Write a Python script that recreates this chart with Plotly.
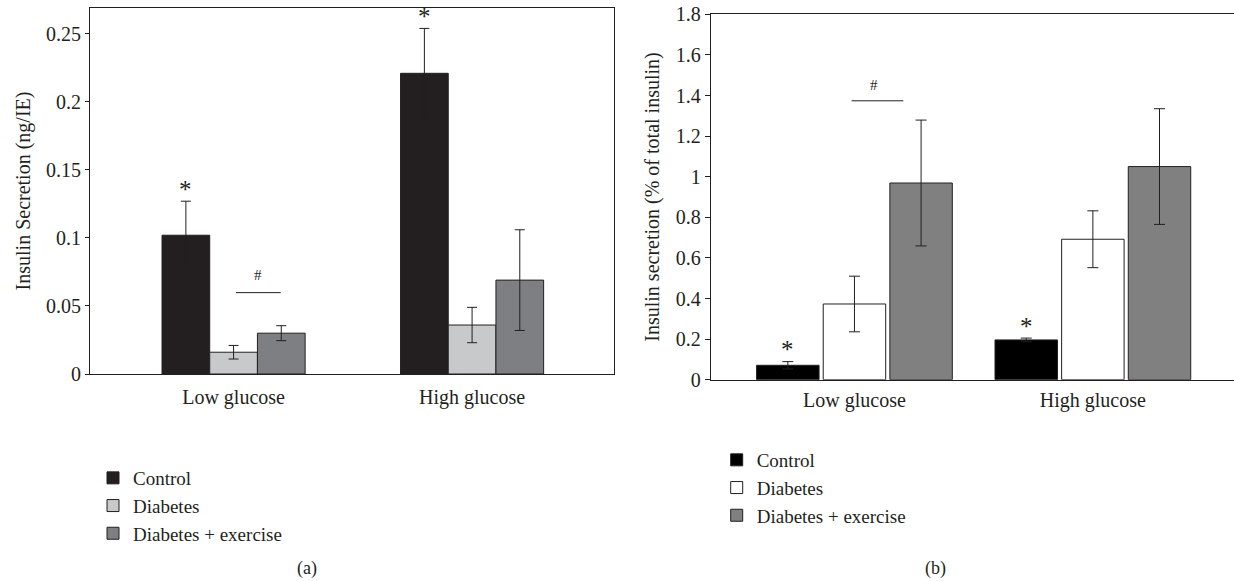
import plotly.graph_objects as go

# ---------------- data ----------------
categories = ["Low glucose", "High glucose"]
series_names = ["Control", "Diabetes", "Diabetes + exercise"]

# panel (a): insulin secretion (ng/IE)
a_control = [0.102, 0.221]
a_control_err = [0.025, 0.033]
a_diabetes = [0.016, 0.036]
a_diabetes_err = [0.005, 0.013]
a_exercise = [0.030, 0.069]
a_exercise_err = [0.0055, 0.037]

# panel (b): insulin secretion (% of total insulin)
b_control = [0.071, 0.196]
b_control_err = [0.018, 0.009]
b_diabetes = [0.373, 0.692]
b_diabetes_err = [0.137, 0.140]
b_exercise = [0.969, 1.050]
b_exercise_err = [0.310, 0.285]

a_colors = ["#231f20", "#c8c9ca", "#7e7f83"]
b_colors = ["#000000", "#ffffff", "#808080"]

FONT = "Liberation Serif, Times New Roman, DejaVu Serif, serif"
TXT = "#231f20"

# the page's body margin is removed after drawing, so the figure fills the window
OFF = 0
FW, FH = 1234 - OFF, 581 - OFF


def px_x(x):
    return (x - OFF) / FW


def px_y(y):
    return 1 - (y - OFF) / FH


# axis geometry (window pixels) and ranges
A_TOP, A_BOT, A_MAX = 8, 374, 0.269
B_TOP, B_BOT, B_MAX = 14.3, 379.7, 1.8002

fig = go.Figure()

# bar geometry (category units)
a_slot, a_width = 0.2, 0.2
b_slot, b_width = 0.2795, 0.262

a_vals = [(a_control, a_control_err), (a_diabetes, a_diabetes_err), (a_exercise, a_exercise_err)]
b_vals = [(b_control, b_control_err), (b_diabetes, b_diabetes_err), (b_exercise, b_exercise_err)]

for i, (name, (v, e)) in enumerate(zip(series_names, a_vals)):
    shift = (i - 1) * a_slot
    fig.add_trace(go.Bar(
        x=categories, y=v, name=name, xaxis="x", yaxis="y",
        width=a_width, offset=shift - a_width / 2,
        marker=dict(color=a_colors[i], line=dict(color=TXT, width=1)),
        error_y=dict(type="data", array=e, color=TXT, thickness=1, width=5),
        legend="legend",
    ))

for i, (name, (v, e)) in enumerate(zip(series_names, b_vals)):
    shift = (i - 1) * b_slot
    fig.add_trace(go.Bar(
        x=categories, y=v, name=name, xaxis="x2", yaxis="y2",
        width=b_width, offset=shift - b_width / 2,
        marker=dict(color=b_colors[i], line=dict(color=TXT, width=1)),
        error_y=dict(type="data", array=e, color=TXT, thickness=1, width=5.5),
        legend="legend2",
    ))

annotations = []
shapes = []

star_font = dict(family=FONT, size=25, color=TXT)
STAR_SHIFT = 27.5


def star_shift(val, top_px, bot_px, vmax):
    # keep the star's text box inside the figure area
    anchor_px = bot_px - (bot_px - top_px) * val / vmax
    return min(STAR_SHIFT, anchor_px - OFF - 0.5)


# significance stars above the control bars
for j in range(2):
    ya = a_control[j] + a_control_err[j]
    annotations.append(dict(x=j - a_slot, y=ya, xref="x", yref="y",
                            text="*", showarrow=False, yanchor="top",
                            yshift=star_shift(ya, A_TOP, A_BOT, A_MAX), font=star_font))
    yb = b_control[j] + b_control_err[j]
    annotations.append(dict(x=j - b_slot, y=yb, xref="x2", yref="y2",
                            text="*", showarrow=False, yanchor="top",
                            yshift=star_shift(yb, B_TOP, B_BOT, B_MAX), font=star_font))

hash_font = dict(family=FONT, size=15, color=TXT)
# '#' brackets between diabetes and diabetes+exercise at low glucose
shapes.append(dict(type="line", xref="x", yref="y", x0=0.01, x1=0.198, y0=0.0598, y1=0.0598,
                   line=dict(color=TXT, width=1)))
annotations.append(dict(x=0.104, y=0.0598, xref="x", yref="y", text="#", showarrow=False,
                        yanchor="bottom", yshift=8, font=hash_font))
shapes.append(dict(type="line", xref="x2", yref="y2", x0=-0.012, x1=0.205, y0=1.374, y1=1.374,
                   line=dict(color=TXT, width=1)))
annotations.append(dict(x=0.082, y=1.374, xref="x2", yref="y2", text="#", showarrow=False,
                        yanchor="bottom", yshift=6, font=hash_font))

# panel captions
annotations.append(dict(x=px_x(306.7), y=px_y(568), xref="paper", yref="paper", text="(a)",
                        xanchor="center", yanchor="middle",
                        showarrow=False, font=dict(family=FONT, size=18, color=TXT)))
annotations.append(dict(x=px_x(935), y=px_y(568), xref="paper", yref="paper", text="(b)",
                        xanchor="center", yanchor="middle",
                        showarrow=False, font=dict(family=FONT, size=18, color=TXT)))

axis_font = dict(family=FONT, size=20, color=TXT)
legend_font = dict(family=FONT, size=19, color=TXT)

fig.update_layout(
    template="none",
    width=FW, height=FH,
    margin=dict(l=0, r=0, t=0, b=0),
    paper_bgcolor="white", plot_bgcolor="white",
    barmode="overlay",
    font=dict(family=FONT, size=20, color=TXT),
    xaxis=dict(domain=[px_x(90), px_x(614)], anchor="y", type="category", range=[-0.602, 1.595],
               showline=True, mirror=True, linecolor=TXT, linewidth=1, ticks="",
               showgrid=False, zeroline=False, tickfont=axis_font, ticklabelstandoff=5,
               automargin=False),
    yaxis=dict(domain=[px_y(A_BOT), px_y(A_TOP)], anchor="x", range=[0, A_MAX], dtick=0.05,
               showline=True, mirror=True, linecolor=TXT, linewidth=1, ticks="outside",
               ticklen=4, tickcolor=TXT, showgrid=False, zeroline=False, tickfont=axis_font,
               title=dict(text="Insulin Secretion (ng/IE)", font=axis_font, standoff=10),
               ticklabeloverflow="allow", automargin=False),
    xaxis2=dict(domain=[px_x(710.7), 1.0], anchor="y2", type="category", range=[-0.603, 1.592],
                showline=True, mirror=True, linecolor=TXT, linewidth=1, ticks="",
                showgrid=False, zeroline=False, tickfont=axis_font, ticklabelstandoff=2,
                automargin=False),
    yaxis2=dict(domain=[px_y(B_BOT), px_y(B_TOP)], anchor="x2", range=[0, B_MAX], dtick=0.2,
                showline=True, mirror=False, linecolor=TXT, linewidth=1, ticks="outside",
                ticklen=5, tickcolor=TXT, showgrid=False, zeroline=False, tickfont=axis_font,
                title=dict(text="Insulin secretion (% of total insulin)", font=axis_font, standoff=10),
                ticklabeloverflow="allow", automargin=False),
    legend=dict(x=px_x(93), y=px_y(459), xanchor="left", yanchor="top",
                bgcolor="rgba(0,0,0,0)", font=legend_font, traceorder="normal"),
    legend2=dict(x=px_x(716.7), y=px_y(441), xanchor="left", yanchor="top",
                 bgcolor="rgba(0,0,0,0)", font=legend_font, traceorder="normal"),
    annotations=annotations,
    shapes=shapes,
    showlegend=True,
)

fig.write_html("out.html", config={"displayModeBar": False},
               post_script="document.body.style.margin='0';")
